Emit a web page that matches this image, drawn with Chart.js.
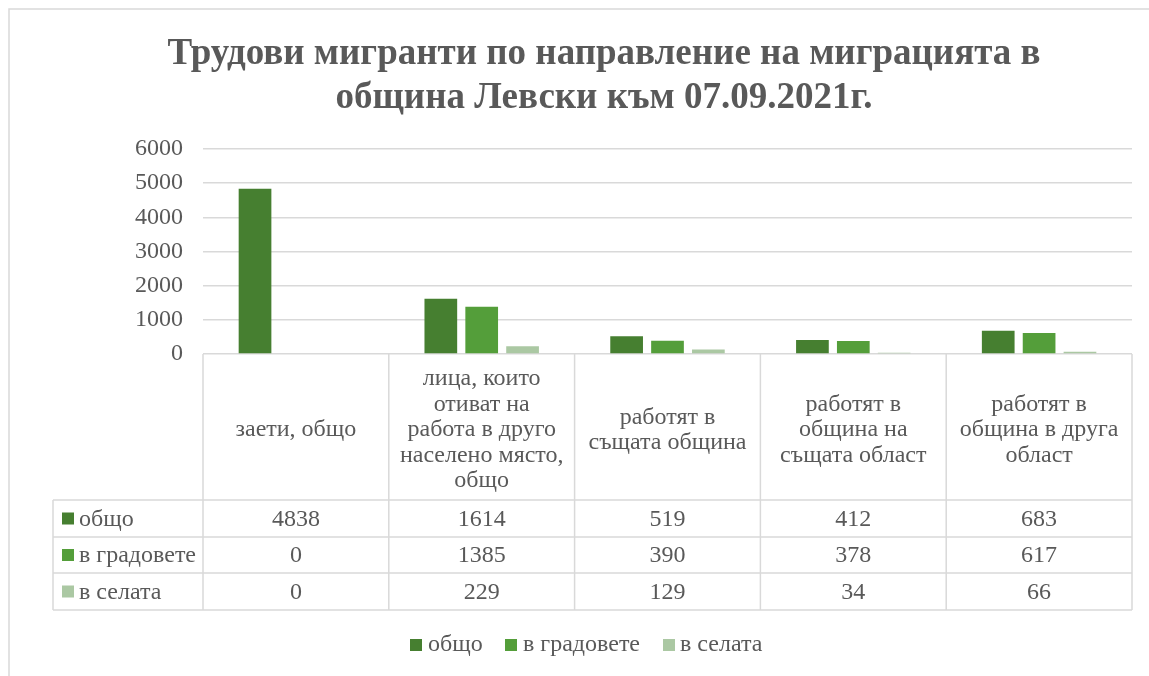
<!DOCTYPE html>
<html>
<head>
<meta charset="utf-8">
<script src="https://cdn.jsdelivr.net/npm/chart.js@4.4.1/dist/chart.umd.min.js"></script>
<style>
html,body{margin:0;padding:0;background:#fff;}
#wrap{position:relative;width:1149px;height:676px;}
</style>
</head>
<body>
<div id="wrap"><canvas id="c" width="1149" height="676"></canvas></div>
<script>
const titleLines = ['Трудови мигранти по направление на миграцията в', 'община Левски към 07.09.2021г.'];
const categories = ['заети, общо', 'лица, които отиват на работа в друго населено място, общо', 'работят в същата община', 'работят в община на същата област', 'работят в община в друга област'];
const categoryLines = [
  ['заети, общо'],
  ['лица, които', 'отиват на', 'работа в друго', 'населено място,', 'общо'],
  ['работят в', 'същата община'],
  ['работят в', 'община на', 'същата област'],
  ['работят в', 'община в друга', 'област']
];
const seriesNames = ['общо', 'в градовете', 'в селата'];
const totalValues = [4838, 1614, 519, 412, 683];
const cityValues = [0, 1385, 390, 378, 617];
const villageValues = [0, 229, 129, 34, 66];
const yTicks = [0, 1000, 2000, 3000, 4000, 5000, 6000];
const colors = ['#467F30', '#549E3A', '#ABC8A3'];

const FONT = '"Liberation Serif", "Times New Roman", serif';
const TXT = '#595959';
const LINE = '#D9D9D9';

const tablePlugin = {
  id: 'tablePlugin',
  afterDraw(chart) {
    const ctx = chart.ctx;
    const x = chart.scales.x;
    const area = chart.chartArea;
    const W = chart.width;
    ctx.save();
    // outer border
    ctx.strokeStyle = LINE;
    ctx.lineWidth = 1.5;
    ctx.strokeRect(9, 9, W + 20, 700);
    // title
    ctx.fillStyle = TXT;
    ctx.textAlign = 'center';
    ctx.textBaseline = 'alphabetic';
    ctx.font = 'bold 37px ' + FONT;
    ctx.fillText(titleLines[0], 604, 64);
    ctx.fillText(titleLines[1], 604, 108);

    const n = categories.length;
    const half = (x.getPixelForValue(1) - x.getPixelForValue(0)) / 2;
    const bounds = [];
    for (let i = 0; i < n; i++) bounds.push(x.getPixelForValue(i) - half);
    bounds.push(x.getPixelForValue(n - 1) + half);

    const top = area.bottom;
    const rowTops = [500, 537, 573, 610];
    const labelLeft = 53;

    ctx.strokeStyle = LINE;
    ctx.lineWidth = 1.5;
    ctx.beginPath();
    for (let i = 0; i < bounds.length; i++) {
      ctx.moveTo(bounds[i], top);
      ctx.lineTo(bounds[i], rowTops[3]);
    }
    ctx.moveTo(labelLeft, rowTops[0]);
    ctx.lineTo(labelLeft, rowTops[3]);
    for (const ry of rowTops) {
      ctx.moveTo(labelLeft, ry);
      ctx.lineTo(bounds[n], ry);
    }
    ctx.stroke();

    // category labels
    ctx.font = '24px ' + FONT;
    ctx.fillStyle = TXT;
    ctx.textAlign = 'center';
    ctx.textBaseline = 'middle';
    const lh = 25.5;
    const midY = (top + rowTops[0]) / 2 + 3;
    for (let i = 0; i < n; i++) {
      const lines = categoryLines[i];
      const cx = x.getPixelForValue(i);
      const y0 = midY - (lines.length - 1) * lh / 2;
      lines.forEach((t, k) => ctx.fillText(t, cx, y0 + k * lh));
    }

    // table rows
    const series = [totalValues, cityValues, villageValues];
    for (let r = 0; r < 3; r++) {
      const cy = (rowTops[r] + rowTops[r + 1]) / 2 + 1;
      ctx.fillStyle = colors[r];
      ctx.fillRect(62, cy - 7, 12, 12);
      ctx.fillStyle = TXT;
      ctx.textAlign = 'left';
      ctx.fillText(seriesNames[r], 79, cy);
      ctx.textAlign = 'center';
      for (let i = 0; i < n; i++) {
        ctx.fillText(String(series[r][i]), x.getPixelForValue(i), cy);
      }
    }

    // legend
    const ly = 645;
    const items = [[410, 428], [505, 523], [663, 680]];
    ctx.textAlign = 'left';
    for (let r = 0; r < 3; r++) {
      ctx.fillStyle = colors[r];
      ctx.fillRect(items[r][0], ly - 6, 12, 12);
      ctx.fillStyle = TXT;
      ctx.fillText(seriesNames[r], items[r][1], ly);
    }
    ctx.restore();
  }
};

new Chart(document.getElementById('c'), {
  type: 'bar',
  data: {
    labels: categories,
    datasets: [
      { label: seriesNames[0], data: totalValues, backgroundColor: colors[0] },
      { label: seriesNames[1], data: cityValues, backgroundColor: colors[1] },
      { label: seriesNames[2], data: villageValues, backgroundColor: colors[2] }
    ]
  },
  options: {
    responsive: false,
    animation: false,
    events: [],
    datasets: { bar: { categoryPercentage: 0.66, barPercentage: 0.8 } },
    layout: { padding: { left: 0, right: 17, top: 149, bottom: 322 } },
    plugins: { legend: { display: false }, title: { display: false }, tooltip: { enabled: false } },
    scales: {
      x: { display: false },
      y: {
        min: 0, max: 6000,
        afterFit(s) { s.width = 203; },
        afterBuildTicks(s) { s.ticks = yTicks.map(v => ({ value: v })); },
        border: { display: false },
        grid: { color: LINE, lineWidth: 1.5, drawTicks: false },
        ticks: { color: TXT, font: { family: FONT, size: 24 }, padding: 20, callback: v => String(v) }
      }
    }
  },
  plugins: [tablePlugin]
});
</script>
</body>
</html>
